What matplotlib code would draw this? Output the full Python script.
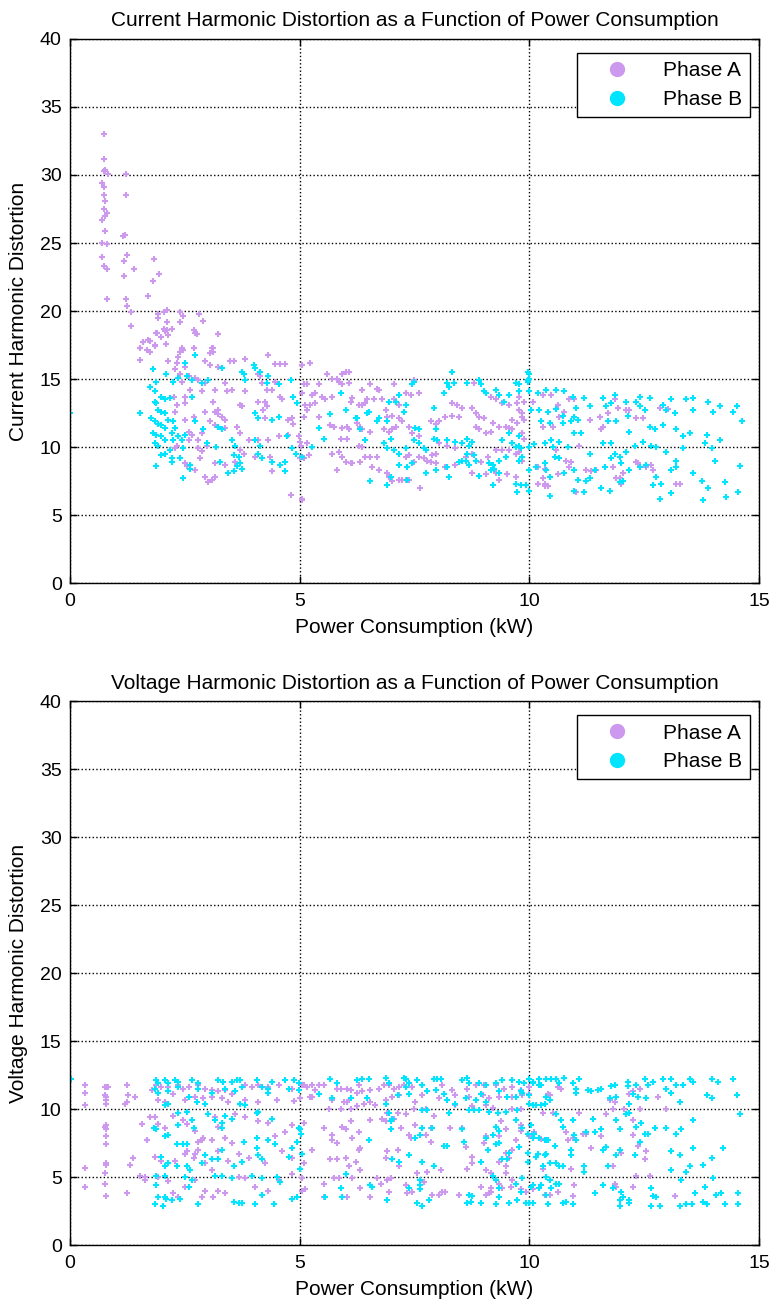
import numpy as np
import matplotlib.pyplot as plt
from matplotlib.lines import Line2D

plt.rcParams['font.family'] = ['Liberation Sans', 'DejaVu Sans']

# Current harmonic distortion, phase A
cur_a_x = [0.74, 0.74, 0.76, 0.74, 0.83, 0.70, 0.74, 0.74, 0.77, 0.74, 0.81, 0.77, 0.70, 0.77, 0.70, 0.81, 0.70, 0.74, 0.81, 0.81,
           1.22, 1.22, 1.16, 1.19, 1.18, 1.25, 1.18, 1.22, 1.25, 1.32, 1.32, 1.40, 1.83, 1.94, 1.81, 1.70,
           1.92, 1.91, 2.05, 2.12, 2.40, 2.40, 2.45, 2.81, 2.90, 2.12, 2.05, 2.12, 2.21, 1.90, 1.97, 2.70, 2.77, 3.23, 1.59, 1.70, 1.52, 1.85, 2.08, 2.44, 2.70, 3.12,
           1.88, 2.07, 2.14, 2.72, 3.23, 1.59, 1.74, 1.85, 1.52, 1.67, 1.74, 1.52,
           2.40, 2.47, 2.36, 2.69, 3.09, 3.05, 3.12, 2.14, 2.32, 2.29, 2.50, 2.94, 3.23, 3.05,
           3.49, 3.56, 3.81, 4.32, 4.47, 4.58, 4.69, 2.40, 2.58, 2.72, 2.79, 2.43, 2.61, 2.94, 2.87, 3.16,
           3.38, 3.41, 3.52, 3.81, 4.10, 4.14, 4.18, 4.29, 4.40, 4.47,
           2.26, 2.32, 2.50, 2.50, 2.29, 3.12, 3.16, 2.94, 2.69, 3.05, 3.16,
           3.23, 3.23, 3.30, 3.38, 3.38, 3.71, 3.74, 3.63, 3.71,
           4.10, 4.25, 4.29, 4.25, 4.21, 4.58, 4.61, 4.75, 4.83, 4.86, 4.54, 4.75,
           2.50, 2.58, 2.65, 2.79, 2.87, 2.79, 2.98, 2.87, 2.32, 2.29, 2.58,
           2.50, 2.54, 2.72, 2.94, 3.01, 3.09, 3.16, 2.83, 3.16, 3.38,
           3.60, 3.71, 3.78, 4.03, 4.36, 4.40, 4.10, 4.32, 3.89, 4.80, 5.05, 4.98, 5.02, 5.20,
           5.05, 5.23, 5.59, 5.70, 5.81, 5.85, 5.92, 6.00, 6.07,
           5.09, 5.16, 5.05, 5.27, 5.34, 5.49, 5.41,
           5.12, 5.23, 5.34, 5.56, 5.70, 5.16, 5.09, 5.41,
           5.92, 6.07, 6.11, 6.14, 6.29, 6.36, 6.43, 6.54, 6.69, 6.72,
           6.36, 6.47, 6.62, 6.80, 7.05, 7.05, 7.09, 7.16, 7.31, 7.42, 7.49, 7.60,
           5.67, 5.74, 5.92, 6.03, 6.07, 6.25, 6.32, 6.36, 6.54,
           5.89, 6.03, 6.29, 6.36, 5.85, 5.70, 5.92, 6.00, 6.11, 6.32, 6.43, 6.54, 6.69,
           5.81, 6.14, 6.58, 6.72, 6.91, 6.94, 7.02, 7.16, 7.23, 7.31, 7.38, 7.63,
           5.01, 5.16, 5.01, 5.09, 5.05,
           6.87, 6.91, 7.02, 7.16, 7.23, 7.38, 7.45, 7.60, 6.83, 6.94, 7.02, 7.09,
           7.31, 7.38, 7.49, 7.60, 7.71, 7.78, 7.85, 7.89, 7.96,
           7.85, 7.96, 8.03, 8.17, 8.32, 8.46, 8.32, 8.43, 8.54, 8.76, 8.84, 8.91, 9.02,
           8.80, 9.05, 9.16, 9.27, 9.41, 9.56, 9.74, 9.78, 9.85, 9.63, 9.20,
           8.84, 8.91, 9.05, 9.16, 9.34, 9.49, 9.56, 9.74, 9.63,
           8.03, 8.21, 8.39, 8.61, 8.76, 8.95, 9.09, 9.27, 9.41, 9.56, 9.70,
           7.96, 8.17, 8.39, 8.76, 9.05, 9.27, 9.52, 9.70, 9.34, 10.18, 10.33, 10.40,
           9.78, 9.89, 10.07, 10.29, 10.47, 10.62, 10.87, 10.98, 9.85, 9.89, 10.29, 10.51, 10.65, 10.76,
           11.31, 11.53, 11.71, 11.86, 11.93, 12.11, 12.18, 12.33, 12.47, 12.84, 13.02,
           11.56, 11.60, 9.85, 9.89, 9.78, 9.85, 10.18, 10.33, 10.58, 10.62, 10.80, 10.87, 10.91, 11.09, 11.24, 11.35, 11.45,
           11.82, 11.89, 11.97, 12.04, 12.33, 12.36, 12.55, 12.65, 12.69, 10.18, 10.29, 10.33, 11.02, 12.00, 13.20, 13.27]
cur_a_y = [33.0, 31.2, 30.4, 30.3, 30.1, 29.4, 29.1, 28.5, 28.1, 27.5, 27.2, 27.0, 26.7, 25.9, 25.0, 24.9, 24.0, 23.3, 23.1, 20.9,
           30.1, 28.5, 25.5, 25.6, 23.7, 24.1, 22.6, 20.9, 20.4, 19.9, 18.9, 23.1, 23.8, 22.7, 22.2, 21.1,
           19.8, 19.5, 19.9, 20.1, 19.9, 19.2, 19.6, 19.8, 19.3, 19.2, 18.7, 18.6, 18.7, 18.4, 18.1, 18.6, 18.3, 18.3, 17.7, 17.9, 17.3, 17.4, 17.6, 17.3, 17.3, 17.3,
           18.4, 18.5, 18.2, 18.4, 18.3, 17.7, 17.8, 17.5, 17.3, 17.1, 17.0, 16.4,
           17.0, 17.1, 16.6, 17.3, 17.3, 16.9, 17.0, 16.3, 16.2, 15.7, 15.9, 16.3, 15.9, 16.0,
           16.3, 16.3, 16.5, 16.8, 16.1, 16.1, 16.1, 15.4, 15.2, 15.1, 14.9, 14.8, 14.2, 14.7, 14.1, 14.2,
           14.7, 14.1, 14.2, 14.1, 15.4, 15.2, 14.7, 14.2, 14.2, 14.8,
           13.7, 13.1, 13.7, 13.2, 12.6, 13.3, 12.6, 12.6, 12.2, 11.9, 11.6,
           12.7, 12.4, 12.2, 12.0, 11.4, 13.1, 13.0, 11.5, 11.0,
           13.3, 13.3, 13.0, 12.1, 12.7, 13.7, 13.5, 12.0, 12.1, 11.7, 10.8, 10.9,
           12.0, 11.1, 10.9, 10.5, 11.0, 9.9, 10.1, 9.7, 10.1, 9.9, 10.5,
           8.8, 8.6, 8.3, 7.8, 7.4, 7.6, 7.8, 9.2, 8.8, 8.7,
           8.9, 9.8, 9.5, 9.3, 9.3, 8.2, 10.5, 10.5, 10.5, 6.5, 6.2, 10.8, 10.1, 9.4,
           16.0, 16.2, 15.4, 15.0, 15.0, 14.8, 15.4, 15.5, 15.5,
           14.6, 14.6, 14.0, 13.8, 14.0, 13.7, 14.6,
           13.1, 13.1, 13.2, 13.5, 13.7, 12.7, 12.2, 12.2,
           14.6, 14.7, 13.3, 13.6, 13.1, 13.1, 13.2, 14.6, 14.3, 14.2,
           14.2, 13.5, 13.5, 13.5, 14.6, 13.5, 13.3, 13.1, 14.0, 13.8, 14.9, 14.0,
           11.6, 11.5, 11.4, 11.5, 11.3, 11.8, 11.5, 11.3, 11.1,
           10.6, 10.6, 10.1, 10.0, 9.6, 9.5, 9.3, 8.9, 8.8, 8.9, 9.3, 9.3, 9.3,
           8.3, 8.8, 8.5, 8.3, 8.1, 7.8, 7.5, 7.6, 7.6, 7.6, 7.6, 7.0,
           10.4, 10.3, 9.2, 9.2, 6.1,
           12.7, 12.2, 12.3, 12.1, 11.9, 11.5, 11.0, 10.8, 11.3, 11.1, 11.3, 11.5,
           9.3, 9.4, 8.9, 9.3, 9.2, 9.0, 8.9, 9.4, 9.5,
           11.9, 11.7, 11.9, 12.2, 12.3, 12.2, 13.2, 13.1, 12.9, 12.9, 12.5, 12.2, 12.1,
           14.7, 14.0, 13.7, 13.5, 13.2, 13.1, 13.2, 12.7, 12.5, 12.0, 11.8,
           11.5, 11.3, 11.0, 11.1, 11.5, 11.5, 11.4, 11.8, 11.3,
           10.3, 10.1, 9.9, 9.3, 9.5, 8.9, 9.3, 9.8, 9.8, 9.8, 9.5,
           8.8, 8.5, 8.7, 8.1, 8.0, 8.1, 8.0, 7.8, 7.6, 7.3, 7.3, 7.1,
           13.7, 13.3, 13.3, 13.8, 13.8, 13.1, 13.5, 13.5, 12.2, 12.0, 11.5, 11.5, 12.2, 12.6,
           12.0, 12.2, 12.5, 13.5, 12.9, 12.7, 12.7, 12.1, 12.1, 12.9, 12.8,
           11.3, 11.5, 11.0, 10.6, 9.6, 9.0, 8.5, 8.4, 9.8, 8.0, 9.0, 8.5, 8.9, 10.1, 8.3, 8.2, 8.3,
           8.5, 7.7, 7.7, 8.1, 8.9, 8.8, 8.5, 8.7, 8.3, 7.3, 7.7, 7.1, 6.7, 7.3, 7.3, 7.3]

# Current harmonic distortion, phase B
cur_b_x = [0.0, 1.52,
           1.81, 1.88, 1.74, 1.85, 1.99, 2.07, 2.18,
           1.85, 1.88, 1.92, 1.99, 2.07, 1.77, 1.85, 1.92, 1.99, 2.07, 2.14, 2.25, 2.29,
           1.81, 1.88, 1.85, 1.92, 1.99, 2.07, 2.21, 2.25, 2.36, 2.43, 2.50,
           1.99, 2.07, 1.88, 2.21, 2.21, 2.40, 2.47, 2.18, 2.47, 2.61, 2.61,
           2.10, 2.25, 2.36, 2.54, 2.65, 2.72, 2.50, 2.65, 2.72,
           2.87, 3.01, 2.90, 2.98, 3.23, 3.30, 3.30, 3.74, 3.78,
           3.18, 3.27, 3.45, 3.56, 3.52, 3.60, 3.56, 3.67, 3.71, 3.63, 3.74,
           3.81, 4.00, 4.03, 4.14, 4.32, 4.29, 4.54, 4.80, 4.03, 4.10, 4.40, 4.54,
           4.03, 4.14, 4.10, 4.18, 4.40, 4.58, 4.69, 4.69, 4.72, 4.83, 4.91, 4.86, 4.94,
           8.32, 8.21, 8.24, 8.35,
           8.65, 8.91, 8.95, 9.02, 9.05, 9.27, 9.34, 9.45, 9.56, 9.70, 9.78, 9.78, 10.00, 10.00, 9.96,
           7.45, 7.49, 7.16, 7.31, 7.27, 7.09, 6.94, 6.91, 6.72, 6.69, 6.47, 6.51, 6.25, 6.32, 6.00, 5.67, 5.41, 5.52, 5.27, 5.05,
           5.89, 6.22, 6.43, 6.83, 6.91, 6.98, 7.05, 7.16, 7.31, 7.49, 7.60, 7.71, 7.74,
           7.52, 7.60, 7.93, 7.96, 7.93, 8.00, 8.14, 8.21, 8.39, 8.54, 8.65, 8.69, 8.76, 8.65,
           7.16, 7.34, 7.45, 7.74, 7.96, 8.21, 8.24, 8.46, 8.54, 8.61, 8.69, 8.80, 8.84,
           9.13, 9.20, 9.16, 9.23, 9.34, 9.34, 9.49, 9.63, 9.70, 9.78, 9.81, 9.85, 9.78,
           8.91, 9.20, 9.70, 9.74, 9.81, 9.92, 10.00, 9.41, 9.56, 9.78, 10.00,
           6.54, 6.91, 7.34, 6.98,
           9.96, 9.96,
           10.00, 10.18, 10.36, 10.58, 10.76, 10.95, 11.20, 11.60, 11.86, 12.11, 12.33, 12.40, 12.62, 12.91, 13.09, 13.42, 13.57, 13.89, 14.15, 14.51,
           10.04, 10.22, 10.40, 10.58, 10.73, 10.98, 11.02, 11.31, 11.67, 11.78, 11.89, 12.14, 12.40, 12.51, 12.98, 13.16, 13.57, 14.00, 14.44, 14.62,
           10.25, 10.44, 10.73, 10.91, 11.05, 11.71, 12.18, 12.62, 12.73, 12.91, 13.20, 13.35, 13.49, 13.86, 14.15, 13.82,
           10.11, 10.33, 10.47, 10.65, 10.51, 10.84, 10.98, 11.13, 11.31, 11.60, 11.78, 11.86, 11.97, 12.11, 12.29, 12.47, 12.65, 12.76, 12.98, 13.20, 13.35, 13.97, 14.04,
           10.00, 10.15, 10.33, 10.36, 10.44, 10.55, 10.65, 10.76, 10.98, 11.05, 11.24, 11.31, 11.42, 11.64, 11.78, 12.00, 12.04, 12.18, 12.40, 12.55, 12.76, 12.87, 13.09, 13.20, 13.57, 13.75,
           10.00, 10.44, 10.98, 11.20, 11.56, 11.75, 11.97, 12.69, 12.84, 13.09, 13.78, 13.89, 14.26, 14.29, 14.58, 14.55]
cur_b_y = [12.5, 12.5,
           15.7, 14.8, 14.4, 14.1, 13.7, 13.5, 13.6,
           13.3, 13.2, 12.7, 12.6, 12.5, 12.1, 11.9, 11.7, 11.6, 11.4, 12.0, 11.9, 11.4,
           11.0, 10.9, 10.3, 10.1, 10.8, 10.5, 11.0, 10.5, 10.8, 10.5, 10.9,
           9.4, 9.5, 8.6, 9.2, 8.9, 9.2, 9.9, 9.8, 7.7, 8.7, 8.4,
           15.4, 14.8, 15.1, 15.2, 14.9, 16.8, 16.2, 13.7, 11.9,
           14.7, 14.9, 11.3, 10.3, 11.5, 11.3, 15.8, 15.5, 15.4,
           10.0, 8.9, 8.1, 8.2, 10.5, 10.1, 9.4, 9.3, 8.8, 8.6, 8.4,
           14.9, 16.0, 15.8, 15.5, 15.2, 14.7, 14.6, 14.9, 12.5, 12.1, 12.0, 12.2,
           10.5, 10.1, 9.5, 9.2, 8.9, 8.7, 8.9, 8.2, 10.8, 9.9, 9.5, 13.7, 13.2,
           15.5, 14.7, 14.4, 14.7,
           14.7, 14.9, 14.6, 14.1, 14.0, 14.2, 13.8, 13.3, 13.8, 14.7, 14.6, 14.1, 15.4, 15.0, 14.8,
           14.6, 14.8, 13.8, 13.1, 12.6, 13.3, 13.3, 11.9, 12.1, 11.9, 12.5, 12.6, 12.1, 11.3, 12.7, 12.4, 11.4, 10.6, 10.0, 9.3,
           14.0, 12.1, 10.5, 10.3, 9.9, 10.6, 9.8, 9.5, 9.9, 10.5, 10.3, 9.9, 9.8,
           11.4, 11.3, 12.9, 11.3, 10.6, 10.5, 14.0, 10.5, 10.4, 10.3, 10.6, 10.1, 10.4, 9.5,
           8.7, 8.5, 8.8, 8.1, 8.3, 8.5, 7.8, 8.9, 9.0, 9.0, 8.7, 9.4, 9.0,
           8.8, 8.7, 8.3, 8.4, 8.1, 9.0, 9.3, 10.3, 10.0, 10.1, 9.9, 9.3, 9.0,
           7.9, 7.2, 7.3, 6.7, 7.2, 7.2, 6.8, 10.5, 11.0, 10.8, 10.0,
           7.5, 7.2, 7.6, 7.8,
           15.5, 14.9,
           14.1, 14.0, 14.2, 14.2, 14.1, 13.7, 13.6, 13.6, 13.8, 13.3, 13.3, 13.7, 13.6, 13.1, 13.5, 13.5, 13.6, 13.3, 13.0, 13.0,
           12.7, 12.7, 12.6, 12.8, 12.3, 12.2, 12.9, 13.0, 13.0, 13.2, 11.9, 12.3, 13.0, 12.7, 12.7, 12.5, 12.7, 12.6, 12.6, 11.9,
           11.9, 11.8, 11.8, 11.9, 12.0, 11.9, 11.1, 11.5, 11.3, 11.6, 11.3, 10.8, 11.0, 10.9, 10.5, 10.3,
           10.2, 10.3, 10.5, 10.4, 10.0, 10.0, 11.0, 11.0, 9.5, 10.3, 10.3, 9.5, 9.3, 9.6, 10.1, 10.4, 10.1, 10.0, 9.6, 9.0, 9.9, 9.9, 9.0,
           8.3, 8.5, 8.8, 8.3, 7.8, 9.3, 9.2, 8.1, 8.3, 7.6, 7.5, 7.7, 8.3, 8.5, 9.2, 8.8, 7.5, 8.3, 8.5, 8.7, 7.8, 7.3, 8.3, 8.5, 8.1, 7.5,
           6.8, 6.4, 6.8, 6.7, 7.0, 6.8, 7.4, 7.2, 6.2, 6.6, 6.1, 7.0, 7.4, 6.3, 8.6, 6.7]

# Voltage harmonic distortion, phase A
volt_a_x = [0.32, 0.32, 0.32, 0.32, 0.32,
            0.76, 0.79, 0.83, 0.76, 0.79, 0.79, 0.79, 0.79, 0.76, 0.79, 0.79, 0.79, 0.79, 0.79, 0.76, 0.76, 0.79,
            1.23, 1.27, 1.23, 1.19, 1.23, 1.30, 1.37,
            1.41, 1.56, 1.67, 1.74, 1.63, 1.52,
            1.78, 1.88, 1.99, 2.14, 2.36, 2.47, 2.58, 2.79, 2.94, 3.09, 3.23, 3.38, 3.52, 3.81, 3.96, 4.10, 4.32, 4.54, 4.83, 5.09,
            1.92, 2.07, 2.25, 2.50, 2.72, 2.90, 3.09, 3.30, 3.45, 3.81, 4.10, 4.50, 4.87,
            1.85, 1.92, 2.07, 2.25, 2.47, 2.54, 2.72, 2.87, 3.09, 3.16, 3.23, 3.38, 3.52, 3.60, 3.81, 4.10, 4.32, 4.47, 4.69, 4.83,
            1.67, 1.85, 1.99, 2.29, 2.50, 2.69, 2.79, 2.94, 3.09, 3.23, 3.45, 3.67, 3.89, 4.25, 4.61, 4.83, 5.09,
            1.63, 1.92, 2.14, 2.25, 2.36, 2.50, 2.72, 2.87, 2.94, 3.12, 3.23, 3.38, 3.67, 3.81, 4.03, 4.32, 4.54, 4.83, 5.12,
            2.79, 2.90, 2.72, 2.54,
            5.05, 5.16, 5.27, 5.34, 5.41, 5.52, 5.27, 5.81, 5.89, 6.03, 6.11, 6.29, 6.25, 6.36, 6.54, 6.72, 6.83, 6.94, 7.05, 7.16, 7.27, 7.45, 7.67, 8.10, 8.32, 8.65, 8.84, 9.02, 9.27, 9.45, 9.63, 9.81, 10.00,
            5.01, 5.23, 5.70, 5.96, 6.03, 6.07, 6.40, 6.54, 6.87, 7.02, 7.16, 7.52, 7.67, 8.03, 8.39, 8.69, 8.98, 9.13, 9.34, 9.63, 9.85,
            5.63, 5.89, 6.11, 6.25, 6.65, 6.80, 6.91, 7.13, 7.31, 7.49, 7.74, 7.93, 8.39, 8.76, 9.05, 9.20, 9.38, 9.63, 9.81,
            5.09, 5.52, 5.70, 5.92, 6.00, 6.11, 6.29, 6.54, 6.87, 7.05, 7.20, 7.38, 7.52, 7.85, 8.28, 8.54, 9.05, 9.34, 9.49,
            5.70, 5.81, 6.14, 6.29, 6.32, 6.91, 7.13, 7.42, 7.74, 7.85, 8.61, 8.76, 9.02, 9.09, 9.27, 9.49, 9.56, 9.34, 9.63, 9.70,
            5.27, 5.67, 5.81, 6.00, 6.07, 6.22, 6.32, 6.87, 7.16, 7.38, 7.56, 7.78, 8.07, 8.65, 8.76, 9.05, 9.16, 9.49, 9.49,
            5.05, 5.52, 5.74, 5.85, 6.14, 6.32, 6.69, 6.76, 6.91, 6.98, 7.31, 7.45, 7.71, 7.89, 8.03, 8.10, 8.46, 8.94, 9.13, 9.16, 9.34, 9.41,
            5.05, 5.52, 5.92, 6.03, 6.54, 6.94, 7.34, 8.17, 9.05, 9.16, 9.60, 9.92, 9.63,
            9.82, 10.00, 10.40, 10.44, 10.62, 10.69, 11.75, 11.86, 12.18, 12.25, 12.40, 12.80, 9.82, 10.29, 10.51, 11.09, 11.67, 11.82, 12.07, 12.25, 12.40, 12.73, 12.98,
            9.82, 9.82, 10.00, 10.11, 10.25, 10.33, 10.80, 10.84, 10.95, 11.16, 11.24, 11.56, 12.25, 12.36, 12.55, 12.51, 12.00, 11.35, 11.82, 10.91, 10.29, 12.25, 12.33, 12.62, 11.86, 11.89, 10.98, 10.62, 10.44, 10.33, 10.95, 13.16, 10.07, 9.82]
volt_a_y = [11.8, 11.2, 10.3, 5.7, 4.3,
            11.6, 11.6, 11.6, 11.0, 10.9, 10.7, 10.4, 8.8, 8.7, 8.5, 8.0, 7.4, 6.0, 5.9, 5.3, 4.5, 3.6,
            11.8, 11.0, 10.5, 10.4, 3.8, 5.9, 6.4,
            10.9, 8.9, 7.7, 9.4, 5.0, 5.1,
            11.4, 11.8, 11.6, 11.6, 11.8, 11.5, 11.6, 11.8, 11.5, 11.4, 11.3, 11.4, 11.1, 11.8, 11.6, 11.8, 11.6, 11.8, 11.5, 11.8,
            10.7, 10.5, 11.1, 10.7, 10.9, 10.8, 10.9, 10.8, 10.5, 10.7, 10.5, 10.7, 10.6,
            9.4, 8.9, 8.6, 9.5, 9.2, 8.9, 8.4, 7.7, 7.7, 9.4, 8.7, 7.9, 7.5, 9.6, 9.4, 9.1, 9.0, 8.0, 8.3, 8.8,
            7.7, 6.5, 6.2, 6.2, 6.7, 6.4, 7.0, 6.0, 5.5, 6.9, 6.2, 6.7, 6.4, 6.0, 6.9, 6.4, 6.0,
            4.8, 5.0, 4.7, 3.8, 3.5, 4.3, 4.8, 3.5, 4.0, 3.5, 4.0, 3.8, 5.0, 4.9, 4.3, 4.0, 4.8, 5.2, 4.1,
            7.6, 7.9, 6.7, 6.9,
            11.8, 11.6, 11.8, 11.4, 11.8, 11.8, 10.9, 11.5, 11.5, 11.5, 11.4, 11.8, 11.2, 11.3, 11.4, 11.5, 11.8, 11.8, 11.5, 11.6, 11.8, 11.6, 11.8, 11.8, 11.4, 11.5, 11.8, 11.8, 11.8, 11.5, 11.6, 11.4, 11.6,
            10.8, 10.9, 10.7, 10.5, 10.5, 10.7, 10.4, 10.5, 10.7, 10.9, 11.0, 10.5, 11.0, 10.8, 11.0, 10.9, 11.0, 10.8, 10.9, 10.9, 11.0,
            10.0, 10.0, 10.0, 10.2, 10.3, 9.3, 9.7, 9.7, 9.6, 10.0, 10.0, 9.5, 10.3, 10.2, 10.3, 10.1, 9.1, 10.0, 8.8,
            9.0, 8.6, 8.1, 8.7, 8.5, 9.1, 8.3, 9.2, 9.1, 9.3, 8.6, 8.1, 8.8, 8.6, 8.6, 8.6, 8.0, 8.0, 8.5,
            7.7, 7.5, 7.9, 7.0, 7.1, 6.9, 7.0, 7.9, 8.1, 7.6, 7.2, 6.5, 7.5, 7.0, 7.4, 6.8, 6.4, 6.1, 7.0, 7.7,
            7.0, 6.3, 6.3, 6.4, 5.8, 6.1, 5.5, 6.4, 5.8, 6.6, 5.3, 5.4, 5.5, 5.6, 6.0, 5.5, 5.3, 5.8, 5.3,
            4.9, 4.5, 4.9, 4.9, 4.9, 4.2, 4.9, 4.5, 4.8, 4.9, 4.4, 3.9, 4.6, 3.7, 3.7, 3.9, 3.7, 4.3, 3.8, 4.2, 4.5, 4.2,
            4.0, 3.5, 3.5, 3.5, 3.5, 3.9, 3.8, 3.9, 3.7, 3.9, 4.3, 3.9, 4.8,
            11.3, 11.1, 11.1, 11.0, 11.6, 11.5, 10.7, 10.5, 11.1, 11.3, 11.5, 10.9, 10.0, 9.7, 9.7, 9.7, 9.6, 10.0, 10.0, 9.2, 10.0, 8.6, 10.0,
            8.6, 8.4, 8.0, 8.3, 7.8, 7.7, 8.3, 7.7, 7.9, 8.2, 8.2, 8.0, 8.1, 7.3, 6.9, 6.3, 6.8, 7.1, 5.8, 5.6, 5.6, 4.3, 5.1, 5.1, 4.5, 4.3, 4.4, 3.9, 3.7, 3.7, 3.6, 3.6, 4.1, 4.1]

# Voltage harmonic distortion, phase B
volt_b_x = [0.03,
            1.88, 1.92, 2.07, 2.14, 2.29, 2.36, 2.65, 2.79, 3.23, 3.34, 3.52, 3.63, 3.71, 4.07, 4.40, 4.69, 4.87, 4.98,
            1.85, 1.92, 2.14, 2.36, 2.58, 2.79, 3.09, 3.38, 3.60, 3.74, 4.18, 4.32, 4.32, 4.76, 4.98,
            2.07, 2.14, 2.36, 2.54, 2.76, 2.94, 3.30, 3.71, 4.07, 4.10, 4.40, 3.81, 3.01,
            1.82, 1.88, 2.07, 2.14, 2.36, 2.65, 2.69, 3.16, 3.30, 3.52, 3.38,
            2.32, 2.47, 2.54, 2.94, 3.30, 3.78, 4.07, 4.32, 4.47, 4.98, 5.02, 4.94,
            1.99, 2.07, 2.14, 2.32, 2.54, 2.61, 3.09, 3.23, 3.56, 3.74, 4.07, 4.10, 4.18, 4.76, 4.83,
            1.88, 2.07, 2.50, 2.65, 2.87, 3.16, 3.30, 3.52, 3.96, 4.18, 4.50, 4.58,
            1.88, 1.92, 2.07, 2.10, 2.21, 2.40, 2.58, 2.79, 3.56, 3.67, 3.74, 4.03, 4.18, 4.43, 4.83, 4.94, 1.85, 2.03,
            5.67, 5.81, 6.25, 6.36, 6.51, 6.87, 6.94, 7.27, 7.31, 7.38, 7.56, 7.67, 7.93, 8.00, 8.07, 8.54, 8.65, 8.69, 8.91, 9.05, 9.27, 9.41, 9.63, 9.78, 10.00, 10.07, 10.22,
            5.41, 5.70, 6.11, 6.47, 7.13, 7.31, 7.38, 7.78, 7.96, 8.14, 8.21, 8.39, 8.61, 8.84, 8.94, 9.05, 9.34, 9.52, 9.70, 9.81, 10.00, 10.15, 10.33,
            5.01, 6.87, 6.94, 6.98, 7.02, 7.67, 7.78, 8.24, 8.69, 8.80, 8.91, 9.13, 9.31, 9.49, 9.70, 9.74,
            6.98, 7.67, 7.89, 7.52, 7.63, 8.54, 8.58, 9.05, 9.27, 9.20, 9.34, 9.34, 9.85, 9.96, 10.07, 10.22, 10.36, 10.36, 10.18,
            6.51, 8.14, 8.21, 9.09, 9.27, 9.78, 9.56, 5.05, 5.01, 7.02, 7.16, 7.38, 7.67, 7.93, 8.94, 9.41, 9.52, 9.96, 10.29,
            6.00, 6.54, 6.58, 6.91, 7.38, 7.63, 7.63, 7.63, 8.69, 8.76, 8.73, 8.65, 8.94, 9.20, 9.27, 9.34, 9.34, 9.27, 9.56, 9.70, 9.74, 9.81, 10.04, 10.00, 10.22, 10.36, 10.36, 5.92, 5.89, 5.56, 7.56, 7.67, 7.82,
            9.89, 10.07, 10.22, 10.25, 10.36, 10.47, 10.58, 10.65, 10.76, 10.95, 11.09, 11.35, 11.56, 11.78, 11.86, 12.14, 12.14, 12.33, 12.51, 12.58, 12.69, 12.91, 13.09, 13.20, 13.35, 13.49, 13.57, 13.97, 14.11, 14.44,
            9.85, 10.00, 10.07, 10.25, 10.36, 10.44, 11.02, 11.02, 11.27, 11.49, 11.75, 11.89, 12.18, 12.25, 12.36, 12.55, 12.98, 13.09, 13.27, 13.86, 13.97, 14.51,
            10.04, 10.11, 10.33, 10.40, 10.55, 10.58, 10.69, 10.73, 10.95, 10.98, 11.02, 10.91, 10.91, 11.38, 11.24, 11.42, 11.56, 11.60, 11.67, 11.89, 11.97, 11.97, 12.11, 12.18, 12.33, 12.44, 12.51, 12.58, 12.73, 12.98, 13.20, 13.31, 13.57, 13.57, 14.22, 14.58,
            9.96, 10.15, 10.33, 10.44, 10.58, 10.65, 10.73, 11.20, 11.20, 11.71, 11.89, 12.29, 12.40, 13.09, 13.27, 13.09, 13.42, 13.49, 13.78, 13.97, 13.31, 14.00,
            9.85, 10.07, 10.25, 10.44, 10.47, 10.58, 10.65, 11.42, 11.60, 11.82, 12.00, 12.04, 11.97, 11.97, 12.18, 12.18, 12.65, 12.69, 12.65, 12.76, 12.84, 13.27, 13.42, 13.53, 13.60, 13.78, 13.82, 13.86, 14.07, 14.18, 14.26, 14.55, 14.55, 9.93, 10.07, 10.40, 10.73, 10.80, 10.95]
volt_b_y = [12.2,
            12.1, 11.9, 12.1, 11.9, 12.1, 12.0, 12.1, 11.9, 12.1, 12.0, 12.0, 12.1, 12.1, 12.1, 12.0, 12.1, 12.1, 11.9,
            11.5, 11.2, 11.3, 11.6, 10.9, 11.5, 11.2, 11.5, 11.3, 11.6, 11.6, 11.5, 11.2, 11.5, 11.4,
            10.3, 10.4, 9.7, 9.8, 10.5, 10.4, 9.0, 10.4, 9.7, 9.8, 9.3, 10.3, 9.6,
            8.6, 8.5, 8.0, 8.1, 8.8, 9.2, 8.6, 9.2, 8.6, 9.3, 9.5,
            7.4, 7.4, 7.4, 6.6, 7.0, 7.6, 7.9, 7.7, 7.4, 8.6, 8.2, 7.6,
            6.5, 5.8, 6.0, 5.8, 5.8, 5.5, 6.3, 6.3, 5.8, 6.1, 7.1, 6.6, 6.3, 6.5, 7.1,
            5.1, 5.1, 5.0, 4.8, 6.0, 5.1, 5.1, 4.9, 5.1, 4.9, 5.0, 4.6,
            4.4, 3.5, 3.5, 3.4, 3.3, 3.4, 4.3, 3.0, 3.2, 3.1, 3.1, 3.0, 3.7, 3.0, 3.4, 3.5, 3.0, 2.9,
            12.2, 11.9, 12.1, 12.2, 12.2, 12.3, 11.9, 12.3, 12.2, 11.9, 12.1, 11.8, 12.2, 12.2, 12.2, 12.1, 12.3, 11.9, 11.9, 11.8, 11.9, 12.1, 12.1, 12.0, 12.2, 11.9, 11.8,
            11.1, 10.8, 10.8, 10.8, 11.0, 11.6, 11.1, 11.3, 11.4, 11.1, 10.7, 10.4, 10.8, 10.7, 11.1, 10.5, 11.3, 10.9, 10.9, 11.3, 10.4, 10.3, 10.4,
            8.5, 10.4, 9.7, 9.1, 9.3, 9.9, 9.9, 9.7, 9.9, 9.9, 9.9, 9.8, 9.7, 9.8, 9.2, 9.9,
            8.5, 8.6, 8.6, 7.9, 8.1, 8.5, 7.6, 7.9, 8.7, 8.1, 8.4, 7.5, 8.6, 8.2, 7.9, 7.9, 7.7, 6.7, 6.7,
            7.7, 7.3, 7.3, 7.0, 7.4, 7.2, 6.8, 6.7, 5.6, 6.3, 6.1, 6.6, 6.1, 5.8, 6.1, 6.3, 6.3, 6.1, 5.8,
            5.2, 4.4, 4.3, 3.3, 4.2, 4.8, 4.4, 4.1, 3.7, 3.6, 3.2, 3.1, 3.1, 5.1, 4.8, 4.2, 3.5, 3.0, 3.1, 4.5, 3.3, 3.9, 4.3, 3.1, 4.2, 3.7, 5.0, 3.5, 4.2, 3.5, 3.1, 2.9, 3.3,
            11.9, 12.0, 12.2, 11.8, 12.2, 12.2, 12.2, 11.9, 12.3, 11.9, 12.2, 11.3, 11.5, 11.7, 11.8, 12.0, 11.7, 11.8, 12.2, 11.8, 12.0, 12.2, 12.2, 11.8, 11.8, 12.2, 12.0, 12.2, 12.0, 12.2,
            11.2, 11.0, 10.3, 10.3, 10.9, 10.7, 11.5, 11.2, 11.4, 11.4, 10.8, 10.9, 10.4, 11.1, 10.9, 10.8, 11.5, 11.2, 10.5, 11.0, 10.8, 11.0,
            8.8, 8.2, 7.7, 7.7, 7.3, 9.6, 9.2, 8.7, 9.2, 8.1, 7.7, 7.0, 6.6, 9.3, 8.3, 8.3, 8.5, 7.0, 7.2, 9.2, 8.5, 7.0, 9.6, 9.7, 8.7, 9.0, 8.2, 8.2, 8.6, 8.6, 8.2, 8.5, 9.2, 7.1, 7.1, 9.6,
            6.8, 6.5, 6.6, 6.0, 6.0, 5.8, 5.8, 5.8, 5.4, 5.8, 6.6, 6.6, 7.6, 6.9, 6.6, 5.5, 5.4, 5.8, 5.9, 6.4, 4.8, 4.9,
            4.9, 4.4, 4.4, 4.8, 4.2, 4.5, 4.5, 3.8, 4.4, 4.2, 3.9, 3.5, 3.3, 2.9, 3.3, 3.1, 4.2, 3.6, 2.9, 3.5, 2.9, 2.9, 3.0, 3.0, 3.8, 3.2, 4.3, 3.0, 3.7, 3.8, 3.0, 3.0, 3.8, 3.1, 3.1, 3.0, 3.1, 3.2, 3.0]

titles = ["Current Harmonic Distortion as a Function of Power Consumption",
          "Voltage Harmonic Distortion as a Function of Power Consumption"]
ylabels = ["Current Harmonic Distortion", "Voltage Harmonic Distortion"]
xlabel = "Power Consumption (kW)"
series_names = ["Phase A", "Phase B"]

color_a = '#CC99EE'
color_b = '#00E5FF'

fig = plt.figure(figsize=(7.72, 13.04), dpi=100)
ax1 = fig.add_axes([0.0907, 0.5529, 0.8925, 0.4172])
ax2 = fig.add_axes([0.0907, 0.0452, 0.8925, 0.4172])

panels = [(ax1, cur_a_x, cur_a_y, cur_b_x, cur_b_y),
          (ax2, volt_a_x, volt_a_y, volt_b_x, volt_b_y)]

for i, (ax, ax_a, ay_a, bx, by) in enumerate(panels):
    ax.plot(ax_a, ay_a, linestyle='none', marker='+', markersize=4.5, markeredgewidth=1.5, color=color_a)
    ax.plot(bx, by, linestyle='none', marker='+', markersize=4.5, markeredgewidth=1.5, color=color_b)
    ax.set_xlim(0, 15)
    ax.set_ylim(0, 40)
    ax.set_xticks([0, 5, 10, 15])
    ax.set_yticks(np.arange(0, 41, 5))
    ax.grid(True, linestyle=':', color='black', linewidth=1)
    ax.tick_params(direction='in', top=True, right=True, labelsize=14, length=5, width=1)
    ax.tick_params(axis='x', pad=7)
    ax.tick_params(axis='y', pad=6)
    for sp in ax.spines.values():
        sp.set_linewidth(1)
    ax.set_title(titles[i], fontsize=15, pad=9)
    ax.set_xlabel(xlabel, fontsize=15, labelpad=6)
    ax.set_ylabel(ylabels[i], fontsize=15)
    ax.yaxis.set_label_coords(-0.061, 0.5)
    handles = [Line2D([], [], linestyle='none', marker='o', markersize=10, color=color_a),
               Line2D([], [], linestyle='none', marker='o', markersize=10, color=color_b)]
    leg = ax.legend(handles, series_names, loc='upper right', bbox_to_anchor=(0.987, 0.974),
                    fontsize=15, fancybox=False, framealpha=1, edgecolor='black',
                    borderaxespad=0, borderpad=0.4, handlelength=3, handletextpad=0.7,
                    labelspacing=0.45)
    leg.get_frame().set_linewidth(1)

fig.savefig('out.png', dpi=100)
